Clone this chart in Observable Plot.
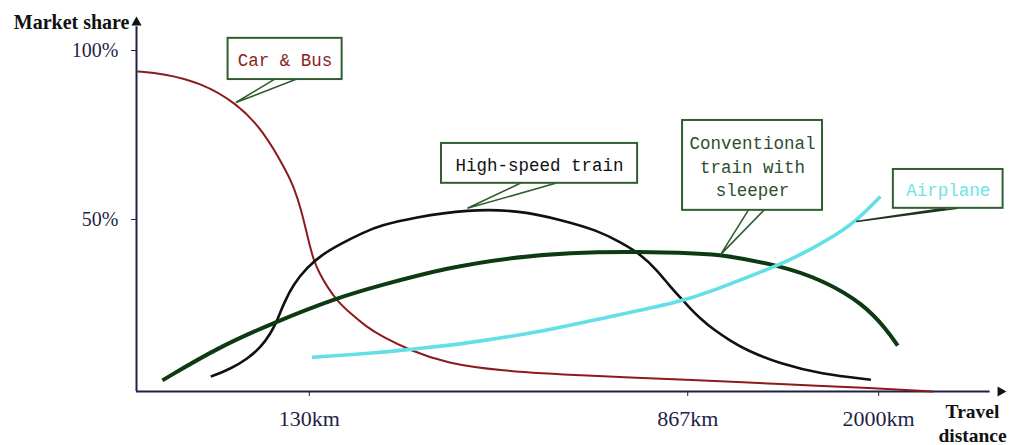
<!DOCTYPE html>
<html><head><meta charset="utf-8">
<script src="https://cdn.jsdelivr.net/npm/d3@7"></script>
<script src="https://cdn.jsdelivr.net/npm/@observablehq/plot@0.6"></script>
<style>body{margin:0;background:#fff} svg{display:block}</style>
</head><body><div id="chart"></div>
<script>
// Tick labels (x is a relative travel-distance position, 0–100)
const xTickPositions = [20, 63.8, 85.9];
const xTickLabels = ["130km", "867km", "2000km"];
const yTicks = [50, 100];

// Series values (market share %)
const carBusX = [0.1, 3.1, 7.4, 11.5, 14.7, 17.5, 18.2, 19.0, 19.9, 20.5, 21.2, 22.1, 23.2, 24.8, 26.7, 28.2, 31.7, 36.0, 41.8, 51.4, 65.3, 73.0, 85.8, 92.2];
const carBusY = [93.8, 93.2, 90.5, 84.6, 76.3, 63.6, 59.5, 53.6, 43.8, 37.9, 33.9, 30.0, 26.0, 22.1, 18.1, 15.7, 11.2, 7.4, 5.3, 3.8, 2.4, 1.5, 0, -0.9];

const hsrX = [8.6, 10.9, 12.8, 14.4, 15.5, 16.3, 17.0, 18.2, 19.8, 21.3, 23.6, 26.3, 28.2, 32.1, 38.3, 44.4, 49.4, 53.3, 56.0, 58.3, 60.3, 61.8, 63.0, 64.1, 65.3, 66.8, 68.8, 70.7, 74.5, 79.2, 85.0];
const hsrY = [3.5, 5.8, 8.7, 12.2, 16.2, 20.1, 25.0, 31.0, 35.9, 39.3, 42.8, 46.2, 48.2, 50.6, 53.0, 52.7, 49.7, 46.8, 43.3, 39.8, 34.9, 30.0, 26.8, 23.6, 20.6, 17.4, 14.0, 11.2, 7.3, 4.3, 2.6];

const convX = [3.0, 9.4, 15.9, 23.3, 28.2, 36.0, 43.6, 49.9, 58.3, 65.3, 67.6, 74.5, 79.5, 84.1, 86.9, 88.1];
const convY = [2.4, 12.1, 19.5, 26.9, 30.5, 35.8, 38.8, 40.2, 40.5, 39.9, 39.6, 36.4, 32.0, 25.1, 17.2, 12.7];

const airX = [20.3, 28.2, 32.1, 36.0, 39.8, 47.5, 55.2, 63.0, 66.8, 70.7, 75.7, 80.3, 83.4, 86.1];
const airY = [9.2, 10.6, 11.7, 12.7, 14.0, 17.1, 21.5, 25.6, 29.0, 32.9, 37.9, 44.3, 49.7, 56.8];

// Callout annotations (data coordinates)
const calloutTexts = ["Car & Bus", "High-speed train", "Conventional\ntrain with\nsleeper", "Airplane"];
const calloutBoxes = [[10.6, 23.8, 91.4, 103.6], [35.3, 58.0, 60.7, 72.5], [63.2, 79.4, 52.7, 79.3], [87.6, 100.3, 53.3, 64.8]];
const calloutBases = [[15.9, 18.4], [44.4, 48.5], [70.8, 72.6], [93.6, 95.0]];
const calloutTips = [[11.5, 84.6], [38.3, 53.3], [67.6, 39.6], [83.3, 49.4]];

const series = [
  {name: "Car & Bus", x: carBusX, y: carBusY, color: "#8b1a1a", w: 2},
  {name: "High-speed train", x: hsrX, y: hsrY, color: "#111111", w: 2.6},
  {name: "Conventional", x: convX, y: convY, color: "#0d3a12", w: 4},
  {name: "Airplane", x: airX, y: airY, color: "#62e0e6", w: 3.6}
];
const textColors = ["#8b2323", "#111111", "#2d4f2d", "#6fe2e8"];
const pointerColors = ["#2f5e2f", "#2f5e2f", "#2f5e2f", "#1d331d"];

const rows = s => s.x.map((x, i) => ({x, y: s.y[i]}));
const boxes = calloutBoxes.map((b, i) => ({x1: b[0], x2: b[1], y1: b[2], y2: b[3], cx: (b[0] + b[1]) / 2, cy: (b[2] + b[3]) / 2, text: calloutTexts[i], i}));
const pointers = calloutBases.flatMap((b, i) => [
  {id: i, x: b[0], y: calloutBoxes[i][2]},
  {id: i, x: calloutTips[i][0], y: calloutTips[i][1]},
  {id: i, x: b[1], y: calloutBoxes[i][2]}
]);

const axisColor = "#1f1f48";
const chart = Plot.plot({
  width: 1009,
  height: 445,
  marginLeft: 136,
  marginRight: 9,
  marginTop: 50,
  marginBottom: 54,
  x: {domain: [0, 100], axis: null},
  y: {domain: [-0.9, 100], axis: null},
  style: {background: "#fff", overflow: "visible"},
  marks: [
    Plot.ruleX([0], {y1: -0.9, y2: 107, stroke: axisColor, strokeWidth: 2}),
    Plot.ruleY([-0.9], {x1: 0, x2: 98.8, stroke: axisColor, strokeWidth: 2}),
    Plot.dot([{x: 0, y: 108.3}], {x: "x", y: "y", symbol: "triangle", r: 3.8, fill: "#111", stroke: "none"}),
    Plot.dot([{x: 100, y: -0.9}], {x: "x", y: "y", symbol: "triangle", r: 3.8, fill: "#111", stroke: "none", rotate: 90}),
    Plot.axisY({ticks: yTicks, tickFormat: d => d + "%", tickSize: 5, tickPadding: 13, label: null, fontSize: 20, fontFamily: "Liberation Serif", color: axisColor}),
    Plot.axisX({ticks: xTickPositions, tickFormat: (d, i) => xTickLabels[i], tickSize: 5, tickPadding: 14, label: null, fontSize: 22, fontFamily: "Liberation Serif", color: axisColor}),
    Plot.text(["Market share"], {frameAnchor: "top-left", textAnchor: "end", lineAnchor: "middle", dx: -7, dy: -28, fontSize: 20, fontWeight: "bold", fontFamily: "Liberation Serif", fill: "#111"}),
    Plot.text(["Travel\ndistance"], {frameAnchor: "bottom-right", textAnchor: "middle", lineAnchor: "middle", dx: -28, dy: 31, lineHeight: 1.25, fontSize: 19.5, fontWeight: "bold", fontFamily: "Liberation Serif", fill: "#111"}),
    ...series.map(s => Plot.line(rows(s), {x: "x", y: "y", stroke: s.color, strokeWidth: s.w, curve: "basis", strokeLinecap: "butt"})),
    Plot.line(pointers, {x: "x", y: "y", z: "id", fill: "#fff", stroke: d => pointerColors[d.id], strokeWidth: 1.6, strokeLinejoin: "miter"}),
    Plot.rect(boxes, {x1: "x1", x2: "x2", y1: "y1", y2: "y2", fill: "#fff", stroke: "#2f5e2f", strokeWidth: 2}),
    Plot.text(boxes, {x: "cx", y: "cy", text: "text", fill: d => textColors[d.i], fontSize: 17.5, lineHeight: 1.34, fontFamily: "Liberation Mono"})
  ]
});
document.getElementById("chart").append(chart);
</script>
</body></html>
